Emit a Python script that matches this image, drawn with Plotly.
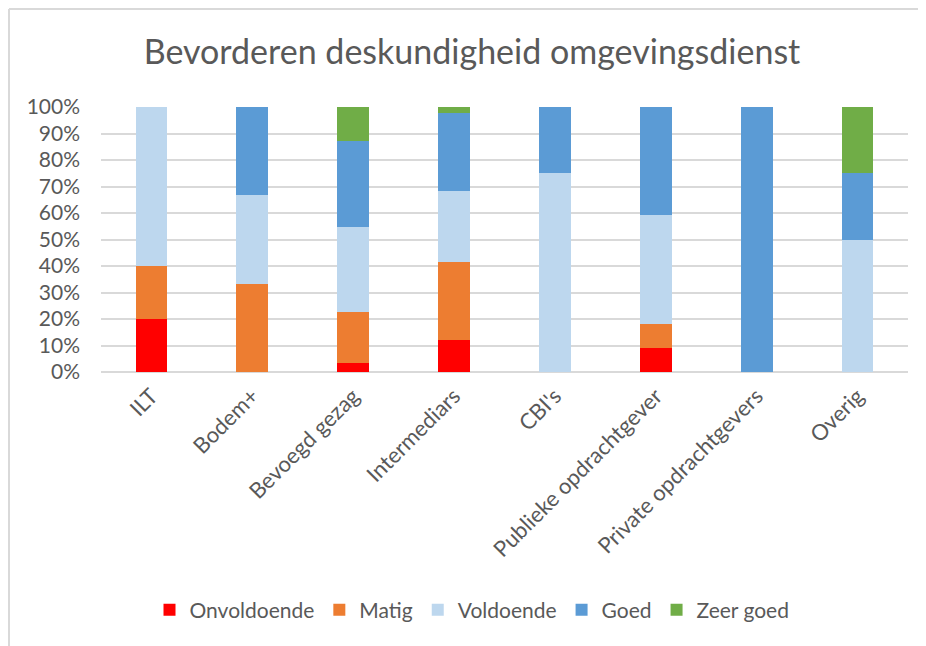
import plotly.graph_objects as go

categories = ["ILT", "Bodem+", "Bevoegd gezag", "Intermediars", "CBI's",
              "Publieke opdrachtgever", "Private opdrachtgevers", "Overig"]
onvoldoende = [0.20, 0.0, 0.0323, 0.122, 0.0, 0.0909, 0.0, 0.0]
matig = [0.20, 0.333, 0.1935, 0.293, 0.0, 0.0909, 0.0, 0.0]
voldoende = [0.60, 0.334, 0.3226, 0.268, 0.75, 0.4091, 0.0, 0.50]
goed = [0.0, 0.333, 0.3226, 0.293, 0.25, 0.4091, 1.0, 0.25]
zeer_goed = [0.0, 0.0, 0.129, 0.024, 0.0, 0.0, 0.0, 0.25]

series = [
    ("Onvoldoende", onvoldoende, "#FF0000"),
    ("Matig", matig, "#ED7D31"),
    ("Voldoende", voldoende, "#BDD7EE"),
    ("Goed", goed, "#5B9BD5"),
    ("Zeer goed", zeer_goed, "#70AD47"),
]
y_ticks = [0, 0.1, 0.2, 0.3, 0.4, 0.5, 0.6, 0.7, 0.8, 0.9, 1.0]
y_tick_text = ["0%", "10%", "20%", "30%", "40%", "50%", "60%", "70%", "80%", "90%", "100%"]

FONT = "Lato, Open Sans, sans-serif"
fig = go.Figure()
for name, vals, color in series:
    fig.add_trace(go.Bar(name=name, x=categories, y=vals, marker_color=color,
                         marker_line_width=0))

# the page body has an 8px margin, so work in figure coordinates = page - 8
OFF = 8
W, H = 926 - OFF, 646 - OFF
L, T = 101 - OFF, 107 - OFF
R = W - (908 - OFF)
B = H - (372 - OFF)
pw, ph = W - L - R, H - T - B

def px_x(x):
    return (x - OFF - L) / pw

def px_y(y):
    return (H - B - (y - OFF)) / ph

fig.update_layout(
    width=W, height=H,
    barmode="stack", bargap=0.685,
    paper_bgcolor="white", plot_bgcolor="white",
    margin=dict(l=L, r=R, t=T, b=B, autoexpand=False),
    title=dict(text="Bevorderen deskundigheid omgevingsdienst",
               x=px_x(472), xanchor="center", xref="paper",
               y=1 - (52 - OFF) / H, yanchor="middle",
               font=dict(family=FONT, size=34, color="#595959")),
    font=dict(family=FONT, color="#595959", size=20),
    legend=dict(orientation="h", x=px_x(472), xanchor="center", y=px_y(610), yanchor="middle",
                font=dict(size=21, color="#595959"), traceorder="normal",
                itemwidth=30, itemsizing="constant"),
    xaxis=dict(tickangle=-45, showgrid=False, showline=False, ticks="",
               ticklabelstandoff=6,
               tickfont=dict(size=22, color="#595959")),
    yaxis=dict(range=[0, 1], tickvals=y_ticks, ticktext=y_tick_text,
               showgrid=True, gridcolor="#D9D9D9", gridwidth=1.5,
               zeroline=True, zerolinecolor="#D9D9D9", zerolinewidth=1.5,
               ticks="", ticklabelstandoff=20,
               tickfont=dict(size=21, color="#595959")),
    shapes=[
        dict(type="line", xref="paper", yref="paper",
             x0=px_x(9), x1=px_x(2000), y0=px_y(9), y1=px_y(9),
             line=dict(color="#D9D9D9", width=2), layer="below"),
        dict(type="line", xref="paper", yref="paper",
             x0=px_x(9), x1=px_x(9), y0=px_y(9), y1=px_y(2000),
             line=dict(color="#D9D9D9", width=2), layer="below"),
    ],
)
fig.write_html("out.html")
